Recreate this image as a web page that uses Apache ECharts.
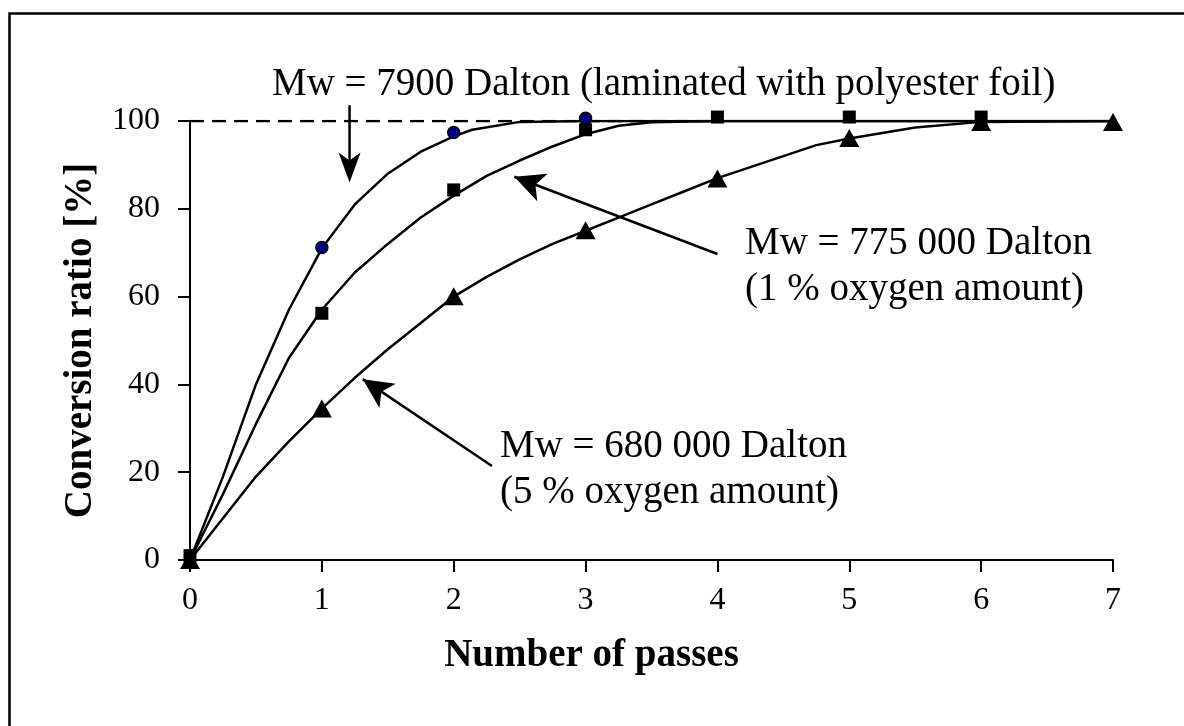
<!DOCTYPE html>
<html>
<head>
<meta charset="utf-8">
<script src="https://cdn.jsdelivr.net/npm/echarts@6/dist/echarts.min.js"></script>
<style>
html,body{margin:0;padding:0;background:#fff;}
#chart{width:1184px;height:726px;}
</style>
</head>
<body>
<div id="chart"></div>
<script>
// ---- data ----
const xTicks = [0, 1, 2, 3, 4, 5, 6, 7];
const yTicks = [0, 20, 40, 60, 80, 100];

// measured points
const pts7900 = [[1, 71.2], [2, 97.4], [3, 100.6]];
const pts775k = [[0, 1], [1, 56.2], [2, 84.3], [3, 98], [4, 100.9], [5, 100.9], [6, 100.9]];
const pts680k = [[0, 0], [1, 34.5], [2, 60.1], [3, 75.1], [4, 86.9], [5, 96.1], [6, 99.8], [7, 99.8]];

// fitted curves
const fit7900 = [[0,0],[0.25,19],[0.5,40],[0.75,57],[1,71],[1.25,81],[1.5,88],[1.75,93],[2,96.5],[2.14,98],[2.5,99.8],[3,100],[4,100],[5,100],[6,100],[7,100]];
const fit775k = [[0,0],[0.25,15],[0.5,31],[0.75,46],[1,57],[1.25,65.5],[1.5,72],[1.75,78],[2,83],[2.25,87.5],[2.5,91],[2.75,94.2],[3,97],[3.25,98.9],[3.5,99.7],[4,100],[5,100],[6,100],[7,100]];
const fit680k = [[0,0],[0.25,9.5],[0.5,19],[0.75,27],[1,34.5],[1.25,41.5],[1.5,48],[1.75,54],[2,60],[2.25,64.5],[2.5,68.5],[2.75,72],[3,75],[3.25,78],[3.5,81],[3.75,84],[4,87],[4.25,89.5],[4.5,92],[4.75,94.5],[5,96],[5.5,98.5],[6,99.8],[7,100]];

// dashed 100 % reference line
const refLine = [[0, 100], [4, 100]];

// annotation arrows [start, tip] in data units
const arrow7900 = [[1.21, 103.6], [1.21, 86]];
const arrow775k = [[4.0, 69.7], [2.46, 87.3]];
const arrow680k = [[2.29, 21.4], [1.31, 41.2]];

const label7900 = 'Mw = 7900 Dalton (laminated with polyester foil)';
const label775k = ['Mw = 775 000 Dalton', '(1 % oxygen amount)'];
const label680k = ['Mw = 680 000 Dalton', '(5 % oxygen amount)'];
const xName = 'Number of passes';
const yName = 'Conversion ratio [%]';

// ---- chart ----
const FONT = '"Liberation Serif", "Times New Roman", serif';
const ANN = '39px ' + FONT;
const chart = echarts.init(document.getElementById('chart'));

function arrowLine(a) {
  return {
    type: 'line', data: [], silent: true,
    markLine: {
      silent: true, animation: false,
      symbol: ['none', 'arrow'], symbolSize: [22, 30],
      lineStyle: { color: '#000', width: 2.5, type: 'solid' },
      label: { show: false },
      data: [[{ coord: a[0] }, { coord: a[1] }]]
    }
  };
}

function txt(id, s, x, y, align) {
  return { type: 'text', id: id, x: x, y: y, z: 100, silent: true,
    style: { text: s, font: ANN, fill: '#000', align: align || 'left', verticalAlign: 'middle' } };
}

const option = {
  animation: false,
  backgroundColor: '#fff',
  grid: { left: 190, right: 71, top: 121, bottom: 166, containLabel: false },
  xAxis: {
    type: 'value', min: 0, max: 7, interval: 1,
    name: xName, nameLocation: 'middle', nameGap: 76,
    nameTextStyle: { fontFamily: FONT, fontSize: 39, fontWeight: 'bold', color: '#000',
      padding: [0, 120, 0, 0] },
    axisLine: { show: true, lineStyle: { color: '#000', width: 2 } },
    axisTick: { show: true, length: 12, inside: false, lineStyle: { color: '#000', width: 2 } },
    axisLabel: { fontFamily: FONT, fontSize: 32, color: '#000', margin: 25,
      formatter: v => xTicks.includes(v) ? String(v) : '' },
    splitLine: { show: false }
  },
  yAxis: {
    type: 'value', min: 0, max: 100, interval: 20,
    name: yName, nameLocation: 'middle', nameGap: 90, nameRotate: 90,
    nameTextStyle: { fontFamily: FONT, fontSize: 39, fontWeight: 'bold', color: '#000' },
    axisLine: { show: true, lineStyle: { color: '#000', width: 2 } },
    axisTick: { show: true, length: 12, inside: false, lineStyle: { color: '#000', width: 2 } },
    axisLabel: { fontFamily: FONT, fontSize: 32, color: '#000', margin: 30,
      formatter: v => yTicks.includes(v) ? String(v) : '' },
    splitLine: { show: false }
  },
  graphic: [
    { type: 'rect', id: 'border', left: 7, top: 11, z: 100, silent: true,
      shape: { width: 1250, height: 800 },
      style: { fill: 'none', stroke: '#000', lineWidth: 2.5 } },
    txt('t1', label7900, 272, 85),
    txt('t2a', label775k[0], 745, 244),
    txt('t2b', label775k[1], 745, 290),
    txt('t3a', label680k[0], 500, 447),
    txt('t3b', label680k[1], 500, 493)
  ],
  series: [
    { type: 'line', data: refLine, showSymbol: false, silent: true, z: 1,
      lineStyle: { color: '#000', width: 2.5, type: [14, 8] } },
    { type: 'line', data: fit7900, showSymbol: false, silent: true, z: 2,
      lineStyle: { color: '#000', width: 2.5 } },
    { type: 'line', data: fit775k, showSymbol: false, silent: true, z: 2,
      lineStyle: { color: '#000', width: 2.5 } },
    { type: 'line', data: fit680k, showSymbol: false, silent: true, z: 2,
      lineStyle: { color: '#000', width: 2.5 } },
    { type: 'scatter', data: pts7900, symbol: 'circle', symbolSize: 12, z: 5, clip: false,
      itemStyle: { color: '#000080', borderColor: '#000', borderWidth: 1.5, opacity: 1 } },
    { type: 'scatter', data: pts775k, symbol: 'rect', symbolSize: 13, z: 5, clip: false,
      itemStyle: { color: '#000', opacity: 1 } },
    { type: 'scatter', data: pts680k, symbol: 'triangle', symbolSize: [20, 18], z: 6, clip: false,
      itemStyle: { color: '#000', opacity: 1 } },
    arrowLine(arrow775k),
    arrowLine(arrow680k)
  ]
};
chart.setOption(option);

// vertical arrow whose tail sits above the plot: place it through the axes' scales
const p0 = chart.convertToPixel({ gridIndex: 0 }, arrow7900[0]);
const p1 = chart.convertToPixel({ gridIndex: 0 }, arrow7900[1]);
const ang = Math.atan2(p1[1] - p0[1], p1[0] - p0[0]);
const L = 30, W = 11, N = 22;
const ux = Math.cos(ang), uy = Math.sin(ang), nx = -uy, ny = ux;
const head = [
  [p1[0], p1[1]],
  [p1[0] - ux * L + nx * W, p1[1] - uy * L + ny * W],
  [p1[0] - ux * N, p1[1] - uy * N],
  [p1[0] - ux * L - nx * W, p1[1] - uy * L - ny * W]
];
chart.setOption({
  graphic: [
    { type: 'line', id: 'a1shaft', z: 50, silent: true,
      shape: { x1: p0[0], y1: p0[1], x2: p1[0] - ux * N, y2: p1[1] - uy * N },
      style: { stroke: '#000', lineWidth: 2.5 } },
    { type: 'polygon', id: 'a1head', z: 50, silent: true,
      shape: { points: head }, style: { fill: '#000' } }
  ]
});
</script>
</body>
</html>
